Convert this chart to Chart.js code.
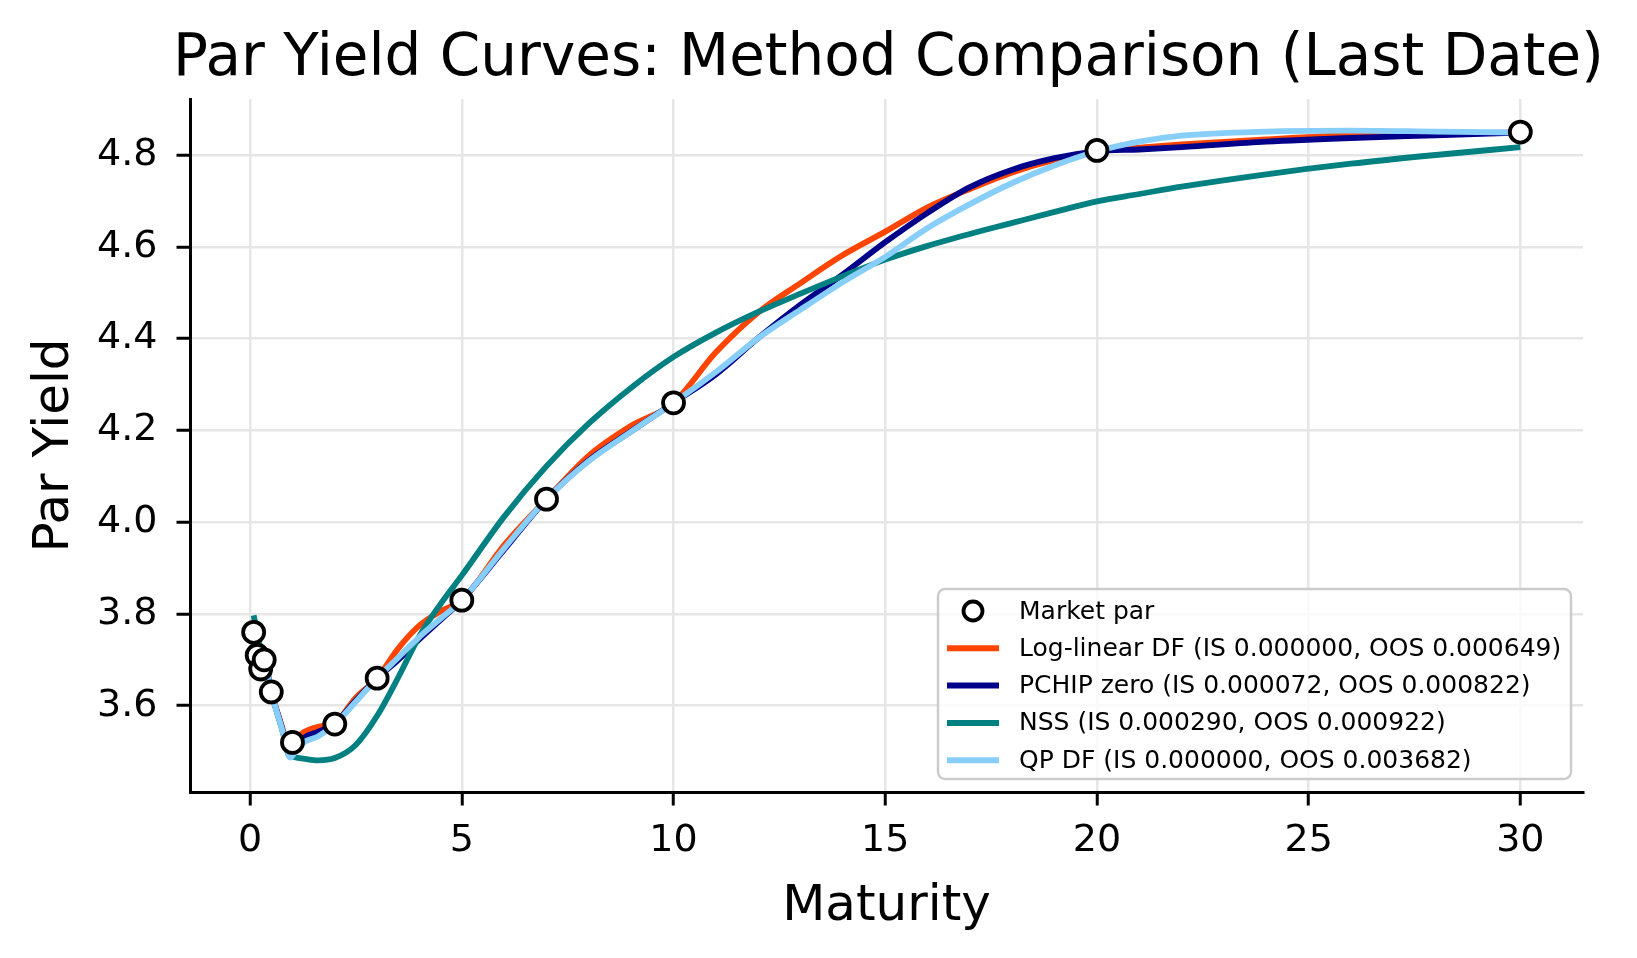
<!DOCTYPE html>
<html>
<head>
<meta charset="utf-8">
<script src="https://cdn.jsdelivr.net/npm/chart.js@4.4.1/dist/chart.umd.min.js"></script>
<style>
  html, body { margin: 0; padding: 0; background: #fff; }
  canvas { display: block; }
</style>
</head>
<body>
<canvas id="chart" width="1637" height="958"></canvas>
<script>
// Maturity grid (years) the fitted curves are sampled on
const maturities = [0.083, 0.167, 0.25, 0.333, 0.5, 0.75, 0.95, 1.1, 1.3, 1.6, 2, 2.5, 3, 3.5, 4, 4.5, 5, 6, 7, 8, 9, 10,
    11, 12, 13, 14, 15, 16, 17, 18, 19, 20, 21, 22, 24, 26, 28, 30];

// Par yields per method
const logLinear = [3.76, 3.71, 3.68, 3.70, 3.63, 3.555, 3.492, 3.528, 3.544, 3.554, 3.562, 3.618, 3.66, 3.725, 3.775, 3.806, 3.83, 3.95, 4.05, 4.145, 4.21, 4.26,
    4.37, 4.457, 4.521, 4.582, 4.633, 4.686, 4.726, 4.762, 4.789, 4.808, 4.816, 4.823, 4.834, 4.843, 4.846, 4.849];
const pchipZero = [3.76, 3.71, 3.68, 3.70, 3.63, 3.553, 3.488, 3.51, 3.532, 3.543, 3.562, 3.612, 3.66, 3.70, 3.745, 3.787, 3.83, 3.94, 4.05, 4.135, 4.198, 4.26,
    4.322, 4.401, 4.474, 4.54, 4.61, 4.674, 4.73, 4.768, 4.793, 4.808, 4.812, 4.817, 4.829, 4.837, 4.843, 4.849];
const nss = [3.797, 3.76, 3.72, 3.69, 3.628, 3.55, 3.492, 3.487, 3.484, 3.481, 3.486, 3.515, 3.578, 3.662, 3.752, 3.822, 3.884, 4.012, 4.122, 4.215, 4.293, 4.36,
    4.413, 4.458, 4.498, 4.536, 4.572, 4.602, 4.628, 4.652, 4.676, 4.699, 4.715, 4.731, 4.758, 4.781, 4.80, 4.817];
const qpDf = [3.76, 3.71, 3.68, 3.70, 3.63, 3.55, 3.487, 3.505, 3.522, 3.533, 3.56, 3.609, 3.66, 3.705, 3.75, 3.79, 3.83, 3.943, 4.05, 4.133, 4.197, 4.26,
    4.327, 4.401, 4.463, 4.523, 4.578, 4.641, 4.693, 4.739, 4.777, 4.808, 4.829, 4.842, 4.851, 4.853, 4.851, 4.849];

// Market par quotes
const marketMaturities = [0.083, 0.167, 0.25, 0.333, 0.5, 1, 2, 3, 5, 7, 10, 20, 30];
const marketPar = [3.76, 3.71, 3.68, 3.70, 3.63, 3.52, 3.56, 3.66, 3.83, 4.05, 4.26, 4.81, 4.85];

const xTicks = [0, 5, 10, 15, 20, 25, 30];
const yTicks = [3.6, 3.8, 4.0, 4.2, 4.4, 4.6, 4.8];

const labels = [
    'Market par',
    'Log-linear DF (IS 0.000000, OOS 0.000649)',
    'PCHIP zero (IS 0.000072, OOS 0.000822)',
    'NSS (IS 0.000290, OOS 0.000922)',
    'QP DF (IS 0.000000, OOS 0.003682)'
];

const FONT = "'DejaVu Sans', sans-serif";
const toPoints = (xs, ys) => xs.map((x, i) => ({ x: x, y: ys[i] }));

function lineSet(label, values, color, order) {
    return {
        label: label,
        data: toPoints(maturities, values),
        showLine: true,
        borderColor: color,
        backgroundColor: color,
        borderWidth: 5.8,
        pointRadius: 0,
        cubicInterpolationMode: 'monotone',
        order: order
    };
}

// Title, axis labels and the legend box drawn by hand
const decorations = {
    id: 'decorations',
    afterDraw(chart) {
        const ctx = chart.ctx;
        const area = chart.chartArea;
        const cx = (area.left + area.right) / 2;
        ctx.save();
        ctx.fillStyle = '#000';
        ctx.textAlign = 'center';
        ctx.textBaseline = 'alphabetic';
        ctx.font = `58px ${FONT}`;
        ctx.fillText('Par Yield Curves: Method Comparison (Last Date)', cx + 2, 75);
        ctx.font = `50px ${FONT}`;
        ctx.fillText('Maturity', cx, 920);
        ctx.save();
        ctx.translate(68, (area.top + area.bottom) / 2);
        ctx.rotate(-Math.PI / 2);
        ctx.fillText('Par Yield', 0, 0);
        ctx.restore();

        // legend frame
        const bx = 938, by = 589, bw = 633, bh = 190, r = 7;
        ctx.beginPath();
        ctx.moveTo(bx + r, by);
        ctx.arcTo(bx + bw, by, bx + bw, by + bh, r);
        ctx.arcTo(bx + bw, by + bh, bx, by + bh, r);
        ctx.arcTo(bx, by + bh, bx, by, r);
        ctx.arcTo(bx, by, bx + bw, by, r);
        ctx.closePath();
        ctx.fillStyle = 'rgba(255,255,255,0.8)';
        ctx.fill();
        ctx.strokeStyle = '#cccccc';
        ctx.lineWidth = 2.5;
        ctx.stroke();

        ctx.font = `25px ${FONT}`;
        ctx.textAlign = 'left';
        ctx.textBaseline = 'middle';
        chart.data.datasets.forEach((ds, i) => {
            const y = 611 + i * 37.3;
            if (ds.showLine) {
                ctx.strokeStyle = ds.borderColor;
                ctx.lineWidth = 6;
                ctx.beginPath();
                ctx.moveTo(947, y);
                ctx.lineTo(999, y);
                ctx.stroke();
            } else {
                ctx.beginPath();
                ctx.arc(973, y, 9.5, 0, Math.PI * 2);
                ctx.fillStyle = '#fff';
                ctx.fill();
                ctx.strokeStyle = '#000';
                ctx.lineWidth = 3.8;
                ctx.stroke();
            }
            ctx.fillStyle = '#000';
            ctx.fillText(ds.label, 1019, y + 1);
        });
        ctx.restore();
    }
};

new Chart(document.getElementById('chart'), {
    type: 'scatter',
    data: {
        datasets: [
            {
                label: labels[0],
                data: toPoints(marketMaturities, marketPar),
                showLine: false,
                pointRadius: 10.5,
                pointBorderWidth: 3.8,
                pointBackgroundColor: '#fff',
                pointBorderColor: '#000',
                order: 0
            },
            lineSet(labels[1], logLinear, '#ff4500', 4),
            lineSet(labels[2], pchipZero, '#00008b', 3),
            lineSet(labels[3], nss, '#008080', 2),
            lineSet(labels[4], qpDf, '#87cefa', 1)
        ]
    },
    options: {
        responsive: false,
        devicePixelRatio: 1,
        animation: false,
        layout: { padding: { left: 0, top: 99, right: 54, bottom: 0 } },
        plugins: {
            legend: { display: false },
            tooltip: { enabled: false },
            title: { display: false }
        },
        scales: {
            x: {
                type: 'linear',
                min: -1.42,
                max: 31.48,
                afterFit: s => { s.height = 166; },
                afterBuildTicks: s => { s.ticks = xTicks.map(v => ({ value: v })); },
                grid: { color: '#e6e6e6', lineWidth: 2.5, tickColor: '#000', tickWidth: 3, tickLength: 13.5 },
                border: { display: true, color: '#000', width: 3 },
                ticks: {
                    color: '#000',
                    font: { family: FONT, size: 38 },
                    padding: 13,
                    maxRotation: 0,
                    autoSkip: false,
                    callback: v => String(v)
                }
            },
            y: {
                type: 'linear',
                min: 3.412,
                max: 4.922,
                afterFit: s => { s.width = 190; },
                afterBuildTicks: s => { s.ticks = yTicks.map(v => ({ value: v })); },
                grid: { color: '#e6e6e6', lineWidth: 2.5, tickColor: '#000', tickWidth: 3, tickLength: 13.5 },
                border: { display: true, color: '#000', width: 3 },
                ticks: {
                    color: '#000',
                    font: { family: FONT, size: 38 },
                    padding: 19,
                    autoSkip: false,
                    callback: v => v.toFixed(1)
                }
            }
        }
    },
    plugins: [decorations]
});
</script>
</body>
</html>
